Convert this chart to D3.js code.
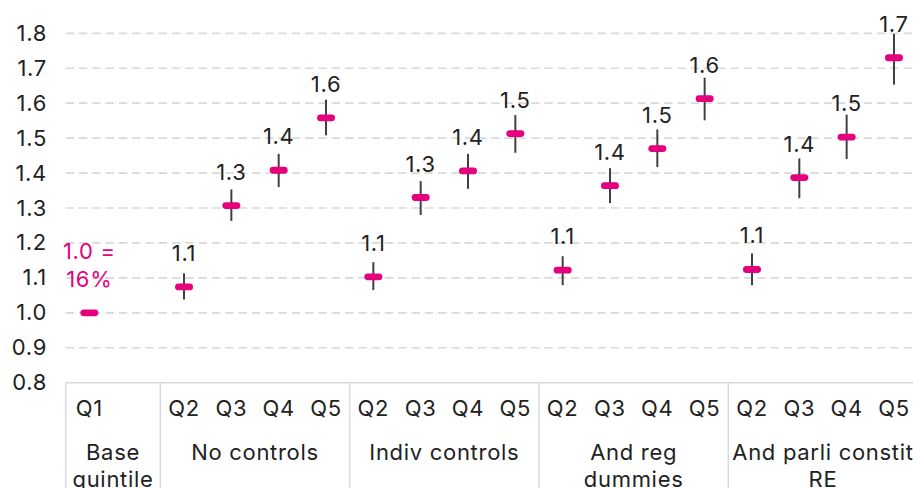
<!DOCTYPE html>
<html>
<head>
<meta charset="utf-8">
<script src="https://cdn.jsdelivr.net/npm/d3@7"></script>
<style>
  html, body { margin: 0; padding: 0; background: #fff; }
  svg { display: block; font-family: Inter, "Noto Sans", sans-serif; }
  svg text { font-size: 22px; letter-spacing: 0.7px; }
</style>
</head>
<body>
<svg id="chart" width="913" height="488"></svg>
<script>
// Relative rates by income quintile across model specifications
const groupLabels = [
  ["Base", "quintile"],
  ["No controls"],
  ["Indiv controls"],
  ["And reg", "dummies"],
  ["And parli constit", "RE"]
];
const quintiles = ["Q2", "Q3", "Q4", "Q5"];

// Base quintile (reference category)
const baseValue = 1.0;
const baseNote = ["1.0 =", "16%"];

// Point estimates per specification (Q2..Q5)
const noControls    = [1.074, 1.307, 1.408, 1.558];
const indivControls = [1.103, 1.330, 1.406, 1.513];
const regDummies    = [1.122, 1.364, 1.470, 1.613];
const parliRE       = [1.124, 1.387, 1.503, 1.730];

// Confidence interval bounds (Q2..Q5)
const noControlsLow     = [1.038, 1.263, 1.360, 1.508];
const noControlsHigh    = [1.113, 1.353, 1.455, 1.610];
const indivControlsLow  = [1.065, 1.280, 1.355, 1.458];
const indivControlsHigh = [1.145, 1.377, 1.455, 1.566];
const regDummiesLow     = [1.079, 1.314, 1.417, 1.551];
const regDummiesHigh    = [1.162, 1.414, 1.525, 1.673];
const parliRELow        = [1.079, 1.328, 1.440, 1.653];
const parliREHigh       = [1.170, 1.442, 1.567, 1.798];

const yTicks = [0.8, 0.9, 1.0, 1.1, 1.2, 1.3, 1.4, 1.5, 1.6, 1.7, 1.8];

const PINK = "#E5007D";
const TEXT = "#222";
const GRID = "#d9d9d9";

// Build slot list: base group has Q1 plus an empty spacer slot
const series = [
  [noControls, noControlsLow, noControlsHigh],
  [indivControls, indivControlsLow, indivControlsHigh],
  [regDummies, regDummiesLow, regDummiesHigh],
  [parliRE, parliRELow, parliREHigh]
];
const slots = [
  { key: "g0-Q1", group: 0, label: "Q1", value: baseValue, lo: null, hi: null, base: true },
  { key: "g0-gap", group: 0, label: "", value: null }
];
series.forEach((s, gi) => {
  quintiles.forEach((q, qi) => {
    slots.push({ key: `g${gi + 1}-${q}`, group: gi + 1, label: q,
                 value: s[0][qi], lo: s[1][qi], hi: s[2][qi] });
  });
});

const svg = d3.select("#chart");
const left = 65.7;
const slotW = 47.33;

const x = d3.scaleBand()
  .domain(slots.map(d => d.key))
  .range([left, left + slotW * slots.length])
  .padding(0);

const y = d3.scaleLinear().domain([0.8, 1.8]).range([382.7, 33.3]);

// Dashed horizontal gridlines
svg.append("g")
  .selectAll("line")
  .data(yTicks.filter(t => t > 0.8))
  .join("line")
  .attr("x1", left).attr("x2", 913)
  .attr("y1", d => y(d)).attr("y2", d => y(d))
  .attr("stroke", GRID).attr("stroke-width", 1.7)
  .attr("stroke-dasharray", "8.3,5");

// Y axis labels
const yAxis = d3.axisLeft(y).tickValues(yTicks).tickFormat(d3.format(".1f")).tickSize(0).tickPadding(0);
const yg = svg.append("g").attr("transform", "translate(47,0)").call(yAxis);
yg.select(".domain").remove();
yg.attr("font-size", null).attr("font-family", null);
yg.selectAll("text").attr("fill", TEXT);

// Category axis frame
const groupIdx = d3.range(groupLabels.length);
const groupExtent = gi => {
  const ks = slots.filter(s => s.group === gi);
  return [x(ks[0].key), x(ks[ks.length - 1].key) + x.bandwidth()];
};
svg.append("line")
  .attr("x1", left).attr("x2", 913)
  .attr("y1", y(0.8)).attr("y2", y(0.8))
  .attr("stroke", GRID).attr("stroke-width", 1.5);
svg.append("g")
  .selectAll("line")
  .data(groupIdx)
  .join("line")
  .attr("x1", gi => groupExtent(gi)[0]).attr("x2", gi => groupExtent(gi)[0])
  .attr("y1", y(0.8)).attr("y2", 488)
  .attr("stroke", GRID).attr("stroke-width", 1.5);

// Quintile labels
svg.append("g")
  .selectAll("text")
  .data(slots.filter(s => s.label))
  .join("text")
  .attr("x", d => x(d.key) + x.bandwidth() / 2)
  .attr("y", 415.5)
  .attr("text-anchor", "middle")
  .attr("fill", TEXT)
  .text(d => d.label);

// Group labels (second lines run past the bottom edge)
const gl = svg.append("g")
  .selectAll("text")
  .data(groupIdx)
  .join("text")
  .attr("x", gi => d3.mean(groupExtent(gi)))
  .attr("y", 459.5)
  .attr("text-anchor", "middle")
  .attr("fill", TEXT);
gl.selectAll("tspan")
  .data(gi => groupLabels[gi].map((t, i) => ({ t, i, gi })))
  .join("tspan")
  .attr("x", d => d3.mean(groupExtent(d.gi)))
  .attr("dy", d => d.i === 0 ? 0 : 27)
  .text(d => d.t);

const pts = slots.filter(s => s.value !== null);
const cx = d => x(d.key) + x.bandwidth() / 2;

// Error bars
svg.append("g")
  .selectAll("line")
  .data(pts.filter(d => d.lo !== null))
  .join("line")
  .attr("x1", cx).attr("x2", cx)
  .attr("y1", d => y(d.lo)).attr("y2", d => y(d.hi))
  .attr("stroke", "#404040").attr("stroke-width", 2);

// Point markers
svg.append("g")
  .selectAll("rect")
  .data(pts)
  .join("rect")
  .attr("x", d => cx(d) - 9)
  .attr("y", d => y(d.value) - 3.4)
  .attr("width", 18).attr("height", 6.8)
  .attr("rx", 3.4)
  .attr("fill", PINK);

// Value labels
svg.append("g")
  .selectAll("text")
  .data(pts.filter(d => !d.base))
  .join("text")
  .attr("x", cx)
  .attr("y", d => y(d.value) - 26)
  .attr("text-anchor", "middle")
  .attr("fill", TEXT)
  .text(d => d3.format(".1f")(d.value));

// Base note
const baseSlot = slots[0];
svg.append("text")
  .attr("x", cx(baseSlot))
  .attr("y", 259)
  .attr("text-anchor", "middle")
  .attr("fill", PINK)
  .selectAll("tspan")
  .data(baseNote)
  .join("tspan")
  .attr("x", cx(baseSlot))
  .attr("dy", (d, i) => i === 0 ? 0 : 27.5)
  .text(d => d);
</script>
</body>
</html>
